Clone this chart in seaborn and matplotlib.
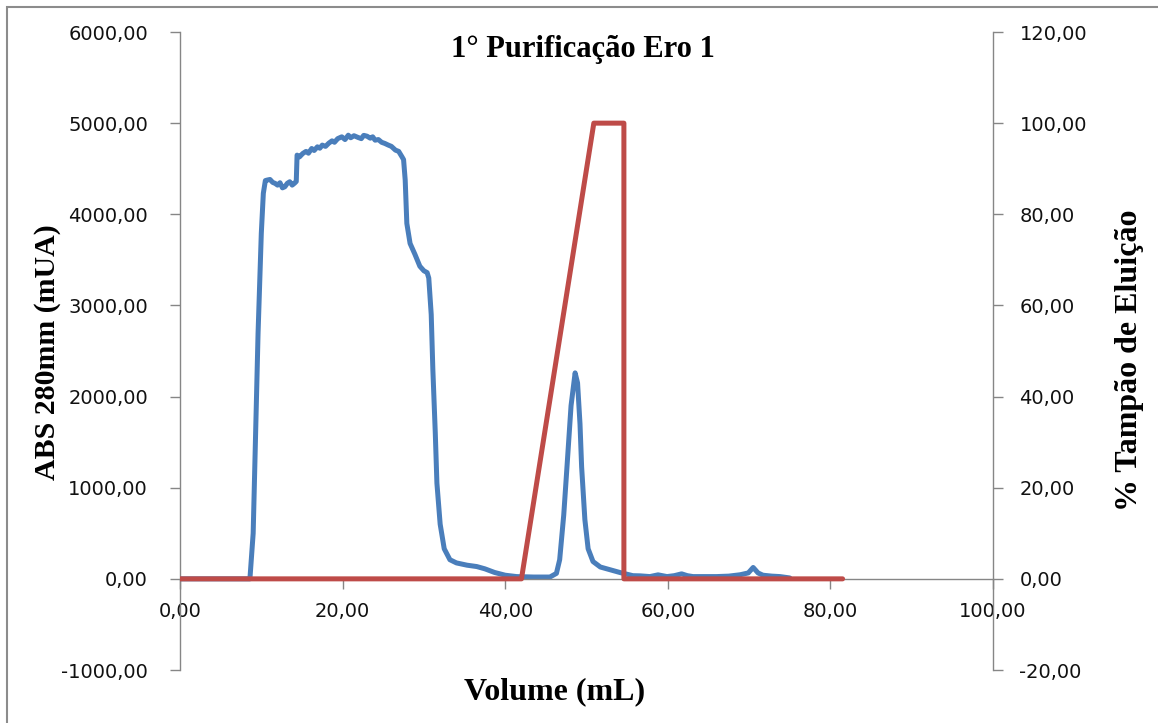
import numpy as np
import pandas as pd
import matplotlib
matplotlib.use("Agg")
import matplotlib.pyplot as plt
from matplotlib.ticker import FuncFormatter
from matplotlib.patches import Rectangle
import seaborn as sns

# ---------------- data ----------------
abs_volume = [0.0, 4.0, 8.6, 9.0, 9.2, 9.6, 10.0, 10.25, 10.5, 10.7, 11.07, 11.4, 11.7, 12.0, 12.3,
              12.6, 12.9, 13.2, 13.5, 13.8, 14.1, 14.3, 14.4, 14.7, 15.1, 15.5, 15.8, 16.2, 16.5,
              16.9, 17.2, 17.5, 17.9, 18.3, 18.7, 19.0, 19.4, 19.9, 20.3, 20.7, 21.0, 21.4, 21.9,
              22.3, 22.6, 23.0, 23.4, 23.7, 24.0, 24.4, 24.8, 25.2, 25.6, 26.0, 26.5, 26.9, 27.3,
              27.5, 27.7, 27.9, 28.3, 28.9, 29.5, 30.0, 30.4, 30.6, 30.9, 31.1, 31.4, 31.6, 32.0,
              32.5, 33.2, 34.0, 35.3, 36.5, 37.5, 38.7, 40.0, 41.4, 43.5, 45.5, 46.3, 46.7, 47.2,
              47.6, 48.1, 48.6, 48.9, 49.2, 49.4, 49.8, 50.2, 50.8, 51.7, 52.9, 54.1, 55.7, 56.6,
              57.8, 58.8, 59.9, 60.8, 61.7, 62.4, 63.1, 64.5, 66.0, 67.5, 68.9, 69.9, 70.5, 71.1,
              71.7, 72.8, 73.8, 75.0]
abs_mau = [0, 0, 0, 500, 1230, 2690, 3790, 4230, 4370, 4375, 4382, 4350, 4339, 4320, 4346,
           4290, 4302, 4340, 4357, 4320, 4342, 4360, 4649, 4630, 4667, 4690, 4670, 4722, 4700,
           4740, 4725, 4759, 4745, 4780, 4806, 4790, 4830, 4850, 4820, 4868, 4840, 4862, 4843,
           4830, 4866, 4857, 4835, 4850, 4813, 4820, 4790, 4777, 4760, 4745, 4704, 4690, 4631,
           4600, 4375, 3900, 3680, 3560, 3430, 3380, 3360, 3300, 2900, 2300, 1600, 1050, 600,
           330, 210, 175, 150, 135, 110, 70, 40, 25, 20, 20, 60, 210, 700,
           1230, 1900, 2260, 2150, 1700, 1230, 650, 330, 190, 130, 100, 70, 35, 33,
           25, 44, 25, 35, 55, 35, 25, 25, 25, 30, 45, 65, 125, 65,
           40, 30, 25, 10]

buffer_volume = [0.0, 42.0, 50.9, 54.6, 54.6, 81.5]
buffer_pct = [0, 0, 100, 100, 0, 0]

x_ticks = [0, 20, 40, 60, 80, 100]
left_ticks = [-1000, 0, 1000, 2000, 3000, 4000, 5000, 6000]
right_ticks = [-20, 0, 20, 40, 60, 80, 100, 120]

title_text = "1° Purificação Ero 1"
xlabel_text = "Volume (mL)"
ylabel_left = "ABS 280mm (mUA)"
ylabel_right = "% Tampão de Eluição"

# ---------------- styling ----------------
sns.set_theme(style="white")
plt.rcParams["font.family"] = ["DejaVu Sans"]

W, H = 1158, 723
fig = plt.figure(figsize=(W / 100, H / 100), dpi=100)
fig.patch.set_facecolor("white")

ax = fig.add_axes([180 / W, 1 - 670 / H, (993 - 180) / W, (670 - 32) / H])
ax2 = ax.twinx()

blue = "#4A7EBB"
red = "#BE4B48"
spine_c = "#868686"

df_abs = pd.DataFrame({"volume": abs_volume, "abs": abs_mau})
df_buf = pd.DataFrame({"volume": buffer_volume, "pct": buffer_pct})

sns.lineplot(data=df_abs, x="volume", y="abs", ax=ax, color=blue, linewidth=3.6,
             estimator=None, sort=False, legend=False,
             solid_joinstyle="round", solid_capstyle="round")
sns.lineplot(data=df_buf, x="volume", y="pct", ax=ax2, color=red, linewidth=3.6,
             estimator=None, sort=False, legend=False,
             solid_joinstyle="round", solid_capstyle="round")

ax.set_xlim(0, 100)
ax.set_ylim(-1000, 6000)
ax2.set_ylim(-20, 120)

fmt = FuncFormatter(lambda v, p: f"{v:.2f}".replace(".", ","))
ax.set_xticks(x_ticks)
ax.set_yticks(left_ticks)
ax2.set_yticks(right_ticks)
ax.xaxis.set_major_formatter(fmt)
ax.yaxis.set_major_formatter(fmt)
ax2.yaxis.set_major_formatter(fmt)

for a in (ax, ax2):
    a.set_xlabel("")
    a.set_ylabel("")
    a.grid(False)
    a.set_facecolor("none")
    for s in a.spines.values():
        s.set_color(spine_c)
        s.set_linewidth(1.0)

ax.spines["top"].set_visible(False)
ax.spines["right"].set_visible(False)
ax.spines["bottom"].set_position(("data", 0))
ax2.spines["top"].set_visible(False)
ax2.spines["left"].set_visible(False)
ax2.spines["bottom"].set_visible(False)

ax.tick_params(axis="y", which="major", direction="out", length=7, width=1, color=spine_c,
               labelsize=14, pad=16, labelcolor="#111111", left=True, right=False)
ax.tick_params(axis="x", which="major", direction="out", length=7, width=1, color=spine_c,
               labelsize=14, pad=10, labelcolor="#111111", bottom=True, top=False)
ax2.tick_params(axis="y", which="major", direction="out", length=7, width=1, color=spine_c,
                labelsize=14, pad=12, labelcolor="#111111", right=True, left=False)

serif = ["Liberation Serif", "DejaVu Serif"]
fig.text(583 / W, 1 - 50 / H, title_text, ha="center", va="center", color="black",
         fontsize=22, fontweight="bold", family=serif)
fig.text(555 / W, 1 - 692 / H, xlabel_text, ha="center", va="center", color="black",
         fontsize=23, fontweight="bold", family=serif)
fig.text(48 / W, 1 - 352 / H, ylabel_left, ha="center", va="center", rotation=90, color="black",
         fontsize=21.5, fontweight="bold", family=serif)
fig.text(1130 / W, 1 - 360 / H, ylabel_right, ha="center", va="center", rotation=90, color="black",
         fontsize=23, fontweight="bold", family=serif)

# outer chart frame (cut off at the right and bottom in the reference)
fig.patches.append(Rectangle((7 / W, -0.05), 1.2, 1 - 7 / H + 0.05, transform=fig.transFigure,
                             fill=False, edgecolor="#8c8c8c", linewidth=1.5, zorder=0))

fig.savefig("out.png", dpi=100, facecolor="white")
